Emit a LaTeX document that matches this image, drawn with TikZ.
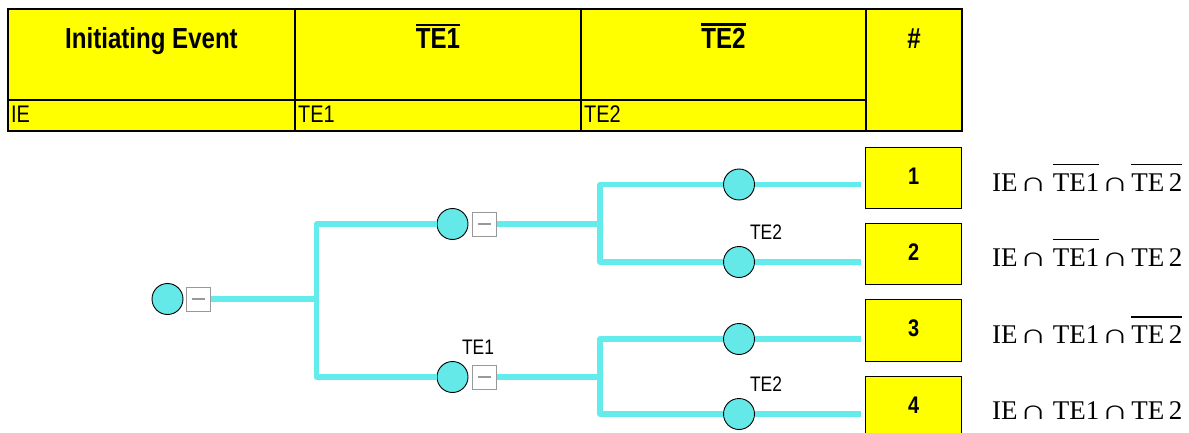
\documentclass[tikz,border=0pt]{standalone}
\usepackage{fontspec}
\setmainfont{Liberation Sans}
\newfontfamily\nsans[FakeStretch=0.83]{Liberation Sans}
\newfontfamily\fser{Liberation Serif}
\newcommand{\ovl}[3]{\begingroup\setbox0=\hbox{#3}\rlap{\rule[\dimexpr\ht0+#1\relax]{\wd0}{#2}}\box0\endgroup}
\newcommand{\capw}{\scalebox{1.4}[1]{∩}}
\definecolor{cyn}{RGB}{100,235,235}
\definecolor{cfill}{RGB}{100,232,232}
\definecolor{ylw}{RGB}{255,255,0}
\tikzset{
  cell/.style={draw=black, line width=1.3, fill=ylw, inner sep=0, anchor=center},
  htext/.style={anchor=base, inner sep=0, font=\nsans\bfseries\fontsize{29}{32}\selectfont},
  rtext/.style={anchor=base west, inner sep=0, font=\nsans\fontsize{24}{28}\selectfont},
  ev/.style={circle, draw=black, line width=0.9, fill=cfill, minimum size=31, inner sep=0},
  mbox/.style={draw=black!40, line width=1, fill=white, minimum size=24, inner sep=0,
    path picture={\draw[line width=2] ([xshift=-6.5]path picture bounding box.center) -- ([xshift=6.5]path picture bounding box.center);}},
  br/.style={cyn, line width=5.5, line join=round},
  endbox/.style={draw=black, line width=1.3, fill=ylw, minimum width=96, minimum height=61.5, inner sep=0,
    text height=17, text depth=5, font=\nsans\bfseries\fontsize{24}{28}\selectfont},
  lab/.style={inner sep=0, font=\nsans\fontsize{21}{24}\selectfont},
  form/.style={anchor=base west, inner sep=0, font=\fser\fontsize{27}{30}\selectfont}
}
\begin{document}
\begin{tikzpicture}[x=1pt,y=-1pt]
\useasboundingbox (0,0) rectangle (1189,433);
% header table
\node[cell, minimum width=287, minimum height=91] (h1) at (151.5,54.5) {};
\node[cell, minimum width=286, minimum height=91] (h2) at (438,54.5) {};
\node[cell, minimum width=285, minimum height=91] (h3) at (723.5,54.5) {};
\node[cell, minimum width=287, minimum height=31] (r1) at (151.5,115.5) {};
\node[cell, minimum width=286, minimum height=31] (r2) at (438,115.5) {};
\node[cell, minimum width=285, minimum height=31] (r3) at (723.5,115.5) {};
\node[cell, minimum width=96, minimum height=122] (h4) at (914,70) {};
\node[htext] (t1) at (151.5,49) {Initiating Event};
\node[htext] (t2) at (438,49) {\ovl{3pt}{2.5pt}{TE1}};
\node[htext] (t3) at (723.5,49) {\ovl{3pt}{2.5pt}{TE2}};
\node[htext] (t4) at (914,49) {\#};
\node[rtext] (s1) at (11,123) {IE};
\node[rtext] (s2) at (298,123) {TE1};
\node[rtext] (s3) at (584,123) {TE2};
% tree nodes
\node[ev] (e0) at (167.5,299) {};
\node[mbox] (m0) at (198,299) {};
\node[ev] (e1) at (452.5,224) {};
\node[mbox] (m1) at (484,224) {};
\node[ev] (e2) at (452.5,377) {};
\node[mbox] (m2) at (484,377) {};
\node[ev] (e3) at (739,184.5) {};
\node[ev] (e4) at (739,262) {};
\node[ev] (e5) at (739,339) {};
\node[ev] (e6) at (739,414) {};
\coordinate (j0) at (316.5,299);
\coordinate (j1) at (600,224);
\coordinate (j2) at (600,377);
\node[lab] (l1) at (478,347) {TE1};
\node[lab] (l2) at (766,232.5) {TE2};
\node[lab] (l3) at (766,384) {TE2};
% end boxes
\node[endbox] (b1) at (913.7,178) {1};
\node[endbox] (b2) at (913.7,254) {2};
\node[endbox] (b3) at (913.7,330.5) {3};
\node[endbox] (b4) at (913.7,407) {4};
% branches
\draw[br] (m0.east) -- (j0);
\draw[br] (e1.west) -| (j0) |- (e2.west);
\draw[br] (m1.east) -- (j1);
\draw[br] (e3.west) -| (j1) |- (e4.west);
\draw[br] (m2.east) -- (j2);
\draw[br] (e5.west) -| (j2) |- (e6.west);
\draw[br, shorten >=4] (e3.east) -- (e3.east -| b1.west);
\draw[br, shorten >=4] (e4.east) -- (e4.east -| b2.west);
\draw[br, shorten >=4] (e5.east) -- (e5.east -| b3.west);
\draw[br, shorten >=4] (e6.east) -- (e6.east -| b4.west);
% formulas
\node[form] (f1) at (992,191) {IE\hspace{2pt}\capw\hspace{6pt}\ovl{8pt}{1.5pt}{TE1}\hspace{2pt}\capw\hspace{2.5pt}\ovl{8pt}{1.5pt}{TE\hspace{4.5pt}2}};
\node[form] (f2) at (992,266) {IE\hspace{2pt}\capw\hspace{6pt}\ovl{8pt}{1.5pt}{TE1}\hspace{2pt}\capw\hspace{2.5pt}TE\hspace{4.5pt}2};
\node[form] (f3) at (992,343.5) {IE\hspace{2pt}\capw\hspace{6pt}TE1\hspace{2pt}\capw\hspace{2.5pt}\ovl{8pt}{1.5pt}{TE\hspace{4.5pt}2}};
\node[form] (f4) at (992,419) {IE\hspace{2pt}\capw\hspace{6pt}TE1\hspace{2pt}\capw\hspace{2.5pt}TE\hspace{4.5pt}2};
\end{tikzpicture}
\end{document}
